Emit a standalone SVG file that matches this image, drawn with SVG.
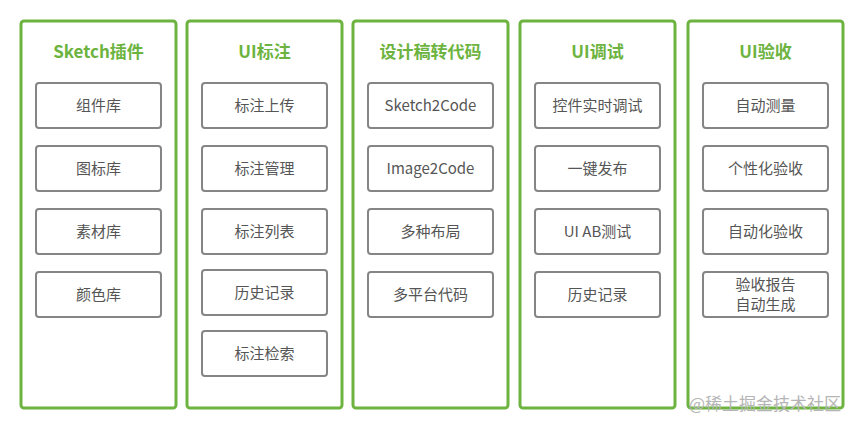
<svg xmlns="http://www.w3.org/2000/svg" width="866" height="429" viewBox="0 0 866 429">
<style>
.col{fill:#fff;stroke:#6db33f;stroke-width:3}
.box{fill:#fff;stroke:#858585;stroke-width:2}
.h{font-family:"Noto Sans CJK SC","Noto Sans",sans-serif;font-size:17px;font-weight:bold;fill:#6db33f;text-anchor:middle}
.t{font-family:"Noto Sans CJK SC","Noto Sans",sans-serif;font-size:15px;fill:#555;text-anchor:middle}
.w{font-family:"Noto Sans CJK SC",sans-serif;font-size:17px;fill:#b5b5b5}
</style>
<rect width="866" height="429" fill="#fff"/>
<g id="c1"><rect class="col" x="21" y="21" width="155" height="387" rx="3"/><text class="h" x="98.5" y="58">Sketch插件</text>
<rect class="box" x="36" y="83" width="125" height="45" rx="3"/><text class="t" x="98.5" y="111">组件库</text>
<rect class="box" x="36" y="146" width="125" height="45" rx="3"/><text class="t" x="98.5" y="174">图标库</text>
<rect class="box" x="36" y="209" width="125" height="45" rx="3"/><text class="t" x="98.5" y="237">素材库</text>
<rect class="box" x="36" y="272" width="125" height="45" rx="3"/><text class="t" x="98.5" y="300">颜色库</text></g>
<g id="c2"><rect class="col" x="187" y="21" width="155" height="387" rx="3"/><text class="h" x="264.5" y="58">UI标注</text>
<rect class="box" x="202" y="83" width="125" height="45" rx="3"/><text class="t" x="264.5" y="111">标注上传</text>
<rect class="box" x="202" y="146" width="125" height="45" rx="3"/><text class="t" x="264.5" y="174">标注管理</text>
<rect class="box" x="202" y="209" width="125" height="45" rx="3"/><text class="t" x="264.5" y="237">标注列表</text>
<rect class="box" x="202" y="270" width="125" height="45" rx="3"/><text class="t" x="264.5" y="298">历史记录</text>
<rect class="box" x="202" y="331" width="125" height="45" rx="3"/><text class="t" x="264.5" y="359">标注检索</text></g>
<g id="c3"><rect class="col" x="353" y="21" width="155" height="387" rx="3"/><text class="h" x="430.5" y="58">设计稿转代码</text>
<rect class="box" x="368" y="83" width="125" height="45" rx="3"/><text class="t" x="430.5" y="111">Sketch2Code</text>
<rect class="box" x="368" y="146" width="125" height="45" rx="3"/><text class="t" x="430.5" y="174">Image2Code</text>
<rect class="box" x="368" y="209" width="125" height="45" rx="3"/><text class="t" x="430.5" y="237">多种布局</text>
<rect class="box" x="368" y="272" width="125" height="45" rx="3"/><text class="t" x="430.5" y="300">多平台代码</text></g>
<g id="c4"><rect class="col" x="520" y="21" width="155" height="387" rx="3"/><text class="h" x="597.5" y="58">UI调试</text>
<rect class="box" x="535" y="83" width="125" height="45" rx="3"/><text class="t" x="597.5" y="111">控件实时调试</text>
<rect class="box" x="535" y="146" width="125" height="45" rx="3"/><text class="t" x="597.5" y="174">一键发布</text>
<rect class="box" x="535" y="209" width="125" height="45" rx="3"/><text class="t" x="597.5" y="237">UI AB测试</text>
<rect class="box" x="535" y="272" width="125" height="45" rx="3"/><text class="t" x="597.5" y="300">历史记录</text></g>
<g id="c5"><rect class="col" x="688" y="21" width="155" height="387" rx="3"/><text class="h" x="765.5" y="58">UI验收</text>
<rect class="box" x="703" y="83" width="125" height="45" rx="3"/><text class="t" x="765.5" y="111">自动测量</text>
<rect class="box" x="703" y="146" width="125" height="45" rx="3"/><text class="t" x="765.5" y="174">个性化验收</text>
<rect class="box" x="703" y="209" width="125" height="45" rx="3"/><text class="t" x="765.5" y="237">自动化验收</text>
<rect class="box" x="703" y="272" width="125" height="45" rx="3"/><text class="t" x="765.5" y="290">验收报告</text><text class="t" x="765.5" y="310">自动生成</text></g>
<g id="connectors"/>
<text class="w" x="689" y="410">@稀土掘金技术社区</text>
</svg>
